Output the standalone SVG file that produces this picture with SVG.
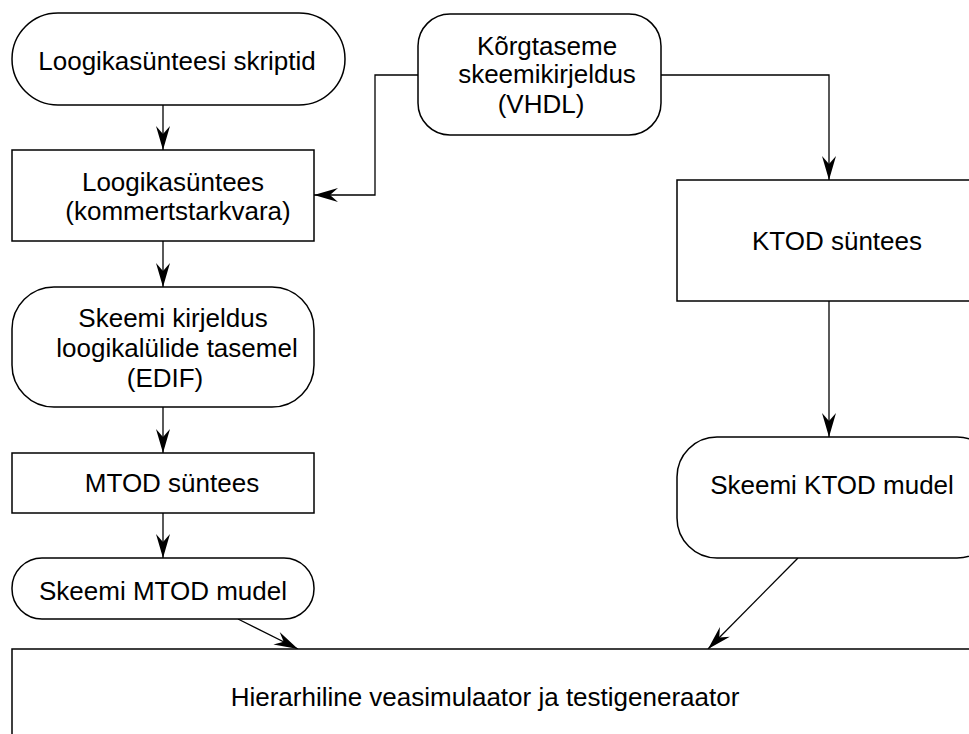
<svg xmlns="http://www.w3.org/2000/svg" width="969" height="734" viewBox="0 0 969 734">
  <defs>
    <style>
      .box { fill: #ffffff; stroke: #000000; stroke-width: 1.5; }
      .lbl { font-family: "Liberation Sans", Arial, sans-serif; font-size: 26px; fill: #000000; text-anchor: middle; }
      .wire { fill: none; stroke: #000000; stroke-width: 1.3; }
    </style>
    <marker id="arrow" markerUnits="userSpaceOnUse" markerWidth="28" markerHeight="20" viewBox="-26 -10 28 20" refX="0" refY="0" orient="auto">
      <path d="M0,0 L-24,-7 L-16,0 L-24,7 Z" fill="#000000"/>
    </marker>
  </defs>
  <rect width="969" height="734" fill="#ffffff"/>

  <!-- flow connectors -->
  <g id="connectors" class="wire" marker-end="url(#arrow)">
    <path d="M163,105 V150"/>
    <path d="M163,241 V287"/>
    <path d="M163,407 V453"/>
    <path d="M163,513 V558"/>
    <path d="M238,619 L298,649"/>
    <path d="M418,75 H375 V195 H314"/>
    <path d="M661,75 H829 V180"/>
    <path d="M829,301 V437"/>
    <path d="M798,558 L708,649"/>
  </g>

  <g id="scripts">
    <rect class="box" x="12" y="13" width="333" height="92" rx="46" ry="46"/>
    <text class="lbl" x="177" y="70">Loogikasünteesi skriptid</text>
  </g>

  <g id="logic-synthesis">
    <rect class="box" x="12" y="150" width="302" height="91"/>
    <text class="lbl" x="173" y="191">Loogikasüntees</text>
    <text class="lbl" x="178" y="220">(kommertstarkvara)</text>
  </g>

  <g id="gate-level-netlist">
    <rect class="box" x="12" y="287" width="302" height="120" rx="42" ry="42"/>
    <text class="lbl" x="173" y="327">Skeemi kirjeldus</text>
    <text class="lbl" x="177" y="357">loogikalülide tasemel</text>
    <text class="lbl" x="165" y="387">(EDIF)</text>
  </g>

  <g id="mtod-synthesis">
    <rect class="box" x="12" y="453" width="302" height="60"/>
    <text class="lbl" x="172" y="492">MTOD süntees</text>
  </g>

  <g id="mtod-model">
    <rect class="box" x="12" y="558" width="302" height="61" rx="30" ry="30"/>
    <text class="lbl" x="163" y="600">Skeemi MTOD mudel</text>
  </g>

  <g id="vhdl-description">
    <rect class="box" x="418" y="14" width="243" height="121" rx="32" ry="32"/>
    <text class="lbl" x="547" y="55">Kõrgtaseme</text>
    <text class="lbl" x="547" y="83">skeemikirjeldus</text>
    <text class="lbl" x="541" y="113">(VHDL)</text>
  </g>

  <g id="ktod-synthesis">
    <rect class="box" x="677" y="180" width="320" height="121"/>
    <text class="lbl" x="837" y="250">KTOD süntees</text>
  </g>

  <g id="ktod-model">
    <rect class="box" x="677" y="437" width="320" height="121" rx="40" ry="40"/>
    <text class="lbl" x="832" y="494">Skeemi KTOD mudel</text>
  </g>

  <g id="fault-simulator">
    <rect class="box" x="12" y="649" width="1000" height="200"/>
    <text class="lbl" x="485" y="706">Hierarhiline veasimulaator ja testigeneraator</text>
  </g>
</svg>
